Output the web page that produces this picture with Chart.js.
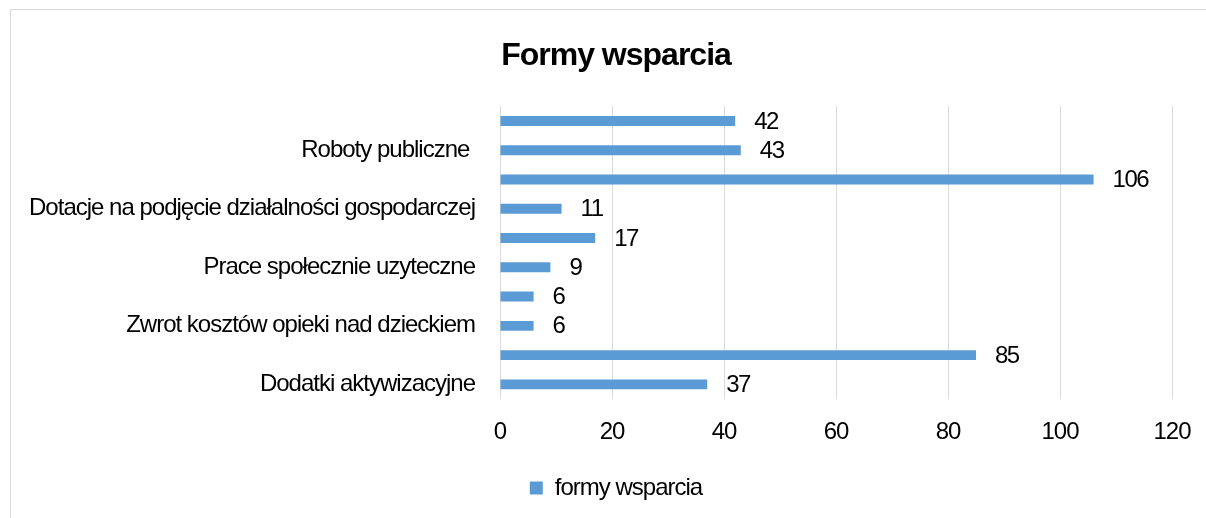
<!DOCTYPE html>
<html>
<head>
<meta charset="utf-8">
<script src="https://cdn.jsdelivr.net/npm/chart.js@4"></script>
<style>
  html, body { margin: 0; padding: 0; background: #fff; overflow: hidden; }
  #wrap { position: absolute; left: 10px; top: 9px; width: 1212px; height: 520px;
          border: 1px solid #d9d9d9; box-sizing: border-box; }
</style>
</head>
<body>
<div id="wrap"><canvas id="chart"></canvas></div>
<script>
const categories = ['', 'Roboty publiczne ', '', 'Dotacje na podjęcie działalności gospodarczej', '',
  'Prace społecznie uzyteczne', '', 'Zwrot kosztów opieki nad dzieckiem', '', 'Dodatki aktywizacyjne'];
const values = [42, 43, 106, 11, 17, 9, 6, 6, 85, 37];
const xTicks = [0, 20, 40, 60, 80, 100, 120];
const seriesName = 'formy wsparcia';

const FONT = "'Liberation Sans', Arial, sans-serif";

// the original uses a narrow font; tighten the letters instead
const narrowText = {
  id: 'narrowText',
  beforeLayout(chart) { chart.ctx.letterSpacing = '-1px'; },
  beforeDraw(chart) { chart.ctx.letterSpacing = '-1px'; }
};

// draws the value next to each bar
const barValues = {
  id: 'barValues',
  afterDatasetsDraw(chart) {
    const c = chart.ctx;
    const meta = chart.getDatasetMeta(0);
    c.save();
    c.font = '24px ' + FONT;
    c.letterSpacing = '-1.5px';
    c.fillStyle = '#000';
    c.textBaseline = 'middle';
    c.textAlign = 'left';
    meta.data.forEach((bar, i) => {
      c.fillText(String(values[i]), bar.x + 19, bar.y + 1);
    });
    c.restore();
  }
};

const ctx = document.getElementById('chart').getContext('2d');
const chart = new Chart(ctx, {
  type: 'bar',
  data: {
    labels: categories,
    datasets: [{
      label: seriesName,
      data: values,
      backgroundColor: '#5b9bd5',
      borderWidth: 0,
      barPercentage: 0.34,
      categoryPercentage: 1
    }]
  },
  options: {
    indexAxis: 'y',
    responsive: true,
    maintainAspectRatio: false,
    animation: false,
    layout: { padding: { left: 0, right: 0, top: 0, bottom: 18 } },
    plugins: {
      title: {
        display: true,
        text: 'Formy wsparcia',
        color: '#000',
        font: { family: FONT, size: 32, weight: 'bold' },
        padding: { top: 27, bottom: 31 }
      },
      legend: {
        position: 'bottom',
        labels: {
          color: '#000',
          font: { family: FONT, size: 24 },
          boxWidth: 13,
          boxHeight: 13,
          padding: 10
        }
      },
      tooltip: { enabled: false }
    },
    scales: {
      x: {
        min: 0,
        max: 120,
        afterBuildTicks(scale) { scale.ticks = xTicks.map(v => ({ value: v })); },
        afterFit(scale) {
          scale.height = 67;
          scale.paddingLeft = 0;
          scale.paddingRight = 49;
        },
        grid: { color: '#d9d9d9', drawTicks: false },
        border: { display: false },
        ticks: { color: '#000', font: { family: FONT, size: 24 }, padding: 19 }
      },
      y: {
        afterFit(scale) { scale.width = 489; },
        grid: { display: false, drawTicks: false },
        border: { display: false },
        ticks: { color: '#000', font: { family: FONT, size: 24 }, padding: 25, autoSkip: false }
      }
    }
  },
  plugins: [narrowText, barValues]
});
</script>
</body>
</html>
